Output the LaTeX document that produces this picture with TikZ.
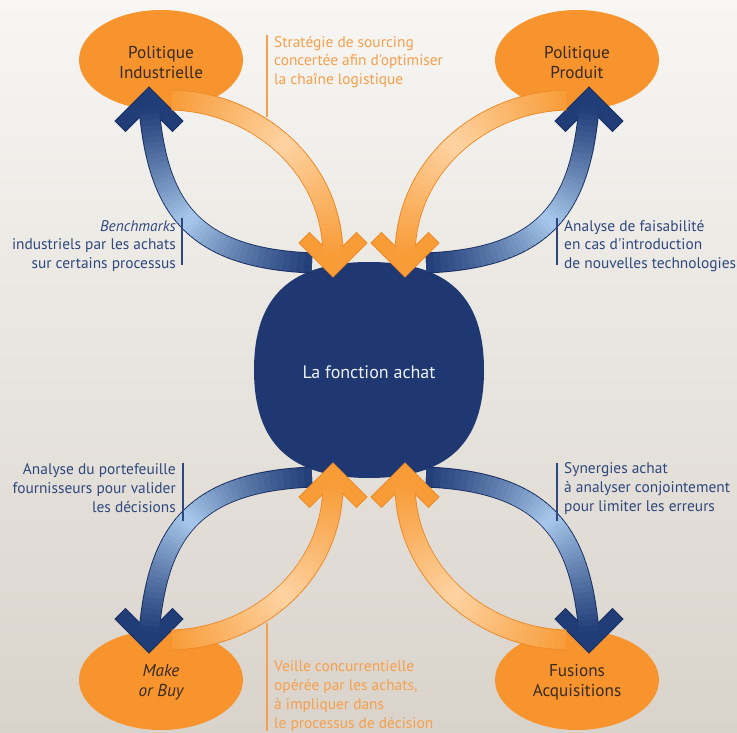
\documentclass[tikz,border=0pt]{standalone}
\usepackage{fontspec}
\newfontfamily\labelfont{PT Sans}
\usetikzlibrary{shapes.geometric}

\definecolor{bgtop}{RGB}{247,246,243}
\definecolor{bgbot}{RGB}{217,211,203}
\definecolor{ellorange}{RGB}{247,148,45}
\definecolor{arrorange}{RGB}{248,156,56}
\definecolor{arrpeach}{RGB}{253,211,162}
\definecolor{arrorangerim}{RGB}{238,138,38}
\definecolor{arrblue}{RGB}{33,61,120}
\definecolor{arrsky}{RGB}{168,201,236}
\definecolor{arrbluerim}{RGB}{26,48,98}
\definecolor{core}{RGB}{31,56,113}
\definecolor{coretext}{RGB}{236,240,246}
\definecolor{labelblue}{RGB}{46,72,125}
\definecolor{labelorange}{RGB}{246,160,75}
\definecolor{darktext}{RGB}{55,42,30}

% chevron arrow head, tip at (#1,#2), rotated by #3, style #4
\newcommand{\chevron}[4]{%
  \begin{scope}[shift={(#1,#2)}, rotate=#3]
    \filldraw[#4] (0,0) -- (-34,34) -- (-23.5,44.5) -- (0,21) -- (23.5,44.5) -- (34,34) -- cycle;
  \end{scope}}

% body of a curved band, coloured from #5 at both ends to #6 in the middle
\newcommand{\gradstroke}[6]{%
  \foreach \k in {0,...,47}{%
    \pgfmathsetmacro{\ta}{\k/48}%
    \pgfmathsetmacro{\tb}{min(1,(\k+1.6)/48)}%
    \pgfmathsetmacro{\mixv}{100*(1-abs(2*(\k+0.5)/48-1))}%
    \path (#1) .. controls (#2) and (#3) .. (#4) coordinate[pos=\ta] (gA) coordinate[pos=\tb] (gB);%
    \draw[line width=19pt, draw=#6!\mixv!#5] (gA) -- (gB);%
  }}

% the two arrows of one quadrant (drawn for the upper left one)
\newcommand{\quadarrows}{%
  % blue: from the centre out to the ellipse
  \coordinate (bT) at (312,263);
  \coordinate (bA) at (190,258);
  \coordinate (bB) at (158,205);
  \coordinate (bH) at (149,108);
  \draw[line width=21pt, arrbluerim] (bT) .. controls (bA) and (bB) .. (bH);
  \chevron{149}{87}{0}{fill=arrblue, draw=arrbluerim, line width=0.8pt}
  \gradstroke{bT}{bA}{bB}{bH}{arrblue}{arrsky}
  % orange: from the ellipse into the centre
  \coordinate (oT) at (172,100);
  \coordinate (oA) at (255,102);
  \coordinate (oB) at (333,165);
  \coordinate (oH) at (333,256);
  \draw[line width=21pt, arrorangerim] (oT) .. controls (oA) and (oB) .. (oH);
  \chevron{333}{277}{180}{fill=arrorange, draw=arrorangerim, line width=0.8pt}
  \gradstroke{oT}{oA}{oB}{oH}{arrorange}{arrpeach}
}

\begin{document}
\begin{tikzpicture}[x=1pt, y=-1pt,
  ell/.style={ellipse, fill=ellorange, minimum width=164pt, minimum height=100pt, inner sep=0pt},
  elltext/.style={inner sep=0pt, align=center, text=darktext,
    font=\labelfont\fontsize{17.2}{20.5}\selectfont},
  lab/.style={inner sep=0pt, font=\labelfont\fontsize{15.4}{18.9}\selectfont},
  bluelab/.style={lab, text=labelblue},
  orangelab/.style={lab, text=labelorange},
  bluerule/.style={draw=labelblue, line width=1.1pt},
  orangerule/.style={draw=labelorange, line width=1.1pt}]

\useasboundingbox (0,0) rectangle (737,733);
\shade[top color=bgtop, bottom color=bgbot] (0,0) rectangle (737,733);

% the four policy ellipses
\node[ell] (pind) at (161,60) {};
\node[ell] (pprod) at (577,60) {};
\node[ell] (mob) at (161,680) {};
\node[ell] (fus) at (577,680) {};
\node[elltext] (pindt) at (161,62.5) {Politique\\Industrielle};
\node[elltext] (pprodt) at (577,62.5) {Politique\\Produit};
\node[elltext] (mobt) at (161,682) {{\itshape Make}\\{\itshape or Buy}};
\node[elltext] (fust) at (577,682) {Fusions\\Acquisitions};

% central rounded body
\fill[core] (254,370) .. controls (254,296) and (291,262) .. (369,262)
  .. controls (447,262) and (484,296) .. (484,370)
  .. controls (484,444) and (447,478) .. (369,478)
  .. controls (291,478) and (254,444) .. (254,370) -- cycle;
\node[text=coretext, font=\labelfont\fontsize{18}{21}\selectfont] (fn) at (369,372) {La fonction achat};

% arrows, four mirrored quadrants
\begin{scope}
  \quadarrows
\end{scope}
\begin{scope}[xshift=738pt, xscale=-1]
  \quadarrows
\end{scope}
\begin{scope}[yshift=-740pt, yscale=-1]
  \quadarrows
\end{scope}
\begin{scope}[xshift=738pt, xscale=-1, yshift=-740pt, yscale=-1]
  \quadarrows
\end{scope}

% side labels with their rules
\draw[orangerule] (267,35) -- (267,117);
\node[orangelab, anchor=west, align=left] (tsrc) at (274,62)
  {Stratégie de sourcing\\concertée afin d'optimiser\\la chaîne logistique};

\draw[bluerule] (182,218) -- (182,265);
\node[bluelab, anchor=east, align=right] (tbench) at (176,246)
  {{\itshape Benchmarks}\\industriels par les achats\\sur certains processus};

\draw[bluerule] (557,218) -- (557,265);
\node[bluelab, anchor=west, align=left] (tfeas) at (564,246)
  {Analyse de faisabilité\\en cas d'introduction\\de nouvelles technologies};

\draw[bluerule] (183,463) -- (183,521);
\node[bluelab, anchor=east, align=right] (tport) at (176,488.5)
  {Analyse du portefeuille\\fournisseurs pour valider\\les décisions};

\draw[bluerule] (557,463) -- (557,521);
\node[bluelab, anchor=west, align=left] (tsyn) at (564,488.5)
  {Synergies achat\\à analyser conjointement\\pour limiter les erreurs};

\draw[orangerule] (267,623) -- (267,731);
\node[orangelab, anchor=west, align=left] (tveil) at (274,696)
  {Veille concurrentielle\\opérée par les achats,\\à impliquer dans\\le processus de décision};

\end{tikzpicture}
\end{document}
